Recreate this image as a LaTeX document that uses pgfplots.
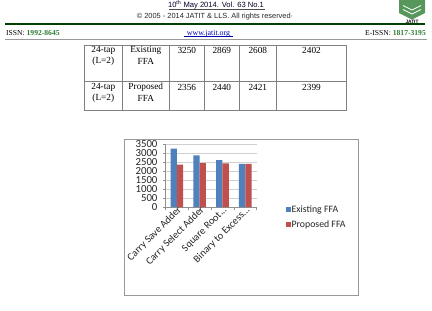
\documentclass[border=0pt]{standalone}
\usepackage{pgfplots}
\pgfplotsset{compat=1.18}
\usepackage{fontspec}
\setmainfont{Liberation Serif}
\newfontfamily\arial{Liberation Sans}
\newfontfamily\calibri{Carlito}
\newcommand\dd{...}
\definecolor{exblue}{HTML}{4F81BD}
\definecolor{prred}{HTML}{C0504D}
\definecolor{jgreen}{HTML}{2E7D32}
\definecolor{gridgray}{HTML}{D0D0D0}
\definecolor{axgray}{HTML}{909090}
\definecolor{tabgray}{HTML}{808080}
\begin{document}
\begin{tikzpicture}
\useasboundingbox (0,0) rectangle (432pt,-311pt);
\fill[white] (0,0) rectangle (432pt,-311pt);
\begin{scope}[x=1pt,y=-1pt]
% header
\node[font=\arial\fontsize{7.6}{8}\selectfont,text=black!85!blue,inner sep=0pt] at (216,5.2) {10\textsuperscript{th} May 2014. Vol. 63 No.1};
\draw[black!70,line width=0.4pt] (169,8.8) -- (265,8.8);
\node[font=\arial\fontsize{7.4}{8}\selectfont,text=black!85,inner sep=0pt] at (215,16.8) {\textcopyright{} 2005 - 2014 JATIT \& LLS. All rights reserved\textperiodcentered};
% logo
\fill[jgreen!80!white] (399,0) -- (425,0) -- (425,13) -- (412,19.5) -- (399,13) -- cycle;
\draw[white,line width=0.8pt] (403,5.5) -- (412,10) -- (421,5.5);
\draw[white,line width=0.8pt] (403,9.5) -- (412,14) -- (421,9.5);
\node[font=\arial\bfseries\fontsize{4.8}{5}\selectfont,inner sep=0pt] at (412,21.4) {JATIT};
% rules
\draw[black!75!green,line width=1.3pt] (5,24) -- (425,24);
\draw[black!40,line width=0.5pt] (5,39.3) -- (427,39.3);
\node[anchor=west,font=\fontsize{7.6}{8}\selectfont,inner sep=0pt] at (6,33.3) {ISSN: \textcolor{jgreen}{\textbf{1992-8645}}};
\node[font=\fontsize{7.9}{8}\selectfont,text=blue!70!black,inner sep=0pt] at (208.5,33.3) {www.jatit.org};
\draw[blue!70!black,line width=0.4pt] (184,36.4) -- (233,36.4);
\node[anchor=east,font=\fontsize{7.6}{8}\selectfont,inner sep=0pt] at (426,33.3) {E-ISSN: \textcolor{jgreen}{\textbf{1817-3195}}};
% table
\draw[tabgray,line width=0.6pt] (84.3,45) rectangle (346.7,110);
\draw[tabgray,line width=0.6pt] (84.3,81.7) -- (346.7,81.7);
\foreach \xx in {122.3,169.3,204.3,239.3,276.3}{\draw[tabgray,line width=0.6pt] (\xx,45) -- (\xx,110);}
\begin{scope}[every node/.style={font=\fontsize{9.3}{10}\selectfont,inner sep=0pt}]
\node at (103.3,50.6) {24-tap}; \node at (103.3,61.7) {(L=2)};
\node at (145.8,50.6) {Existing}; \node at (145.8,61.7) {FFA};
\node at (186.8,50.3) {3250}; \node at (221.8,50.3) {2869}; \node at (257.8,50.3) {2608}; \node at (311.5,50.3) {2402};
\node at (103.3,87.7) {24-tap}; \node at (103.3,98.5) {(L=2)};
\node at (145.8,87.7) {Proposed}; \node at (145.8,98.5) {FFA};
\node at (186.8,87.5) {2356}; \node at (221.8,87.5) {2440}; \node at (257.8,87.5) {2421}; \node at (311.5,87.5) {2399};
\end{scope}
% chart frame
\draw[black!40,line width=0.7pt] (124.3,139) rectangle (358.3,295.7);
\end{scope}
\begin{axis}[
  at={(165.5pt,-207pt)}, anchor=origin,
  scale only axis, width=91.2pt, height=63pt,
  xmin=0.5, xmax=4.5, ymin=0, ymax=3500,
  ytick={0,500,1000,1500,2000,2500,3000,3500},
  /pgf/number format/.cd, 1000 sep={}, assume math mode=true, /pgfplots/.cd,
  xtick={1,2,3,4},
  xticklabels={Carry Save Adder,Carry Select Adder,{Square Root\dd},{Binary to Excess\dd}},
  minor xtick={0.5,1.5,2.5,3.5,4.5},
  major x tick style={draw=none},
  tick align=outside,
  major tick length=2.5pt, minor tick length=3pt,
  tick style={axgray,line width=0.5pt},
  axis x line*=bottom, axis y line*=left,
  axis line style={axgray,line width=0.6pt,-},
  ymajorgrids, grid style={gridgray,line width=0.5pt},
  ybar=0pt, bar width=6.3pt,
  tick label style={font=\calibri\fontsize{10.3}{10}\selectfont,text=black!85},
  yticklabel style={xshift=-2pt,font=\calibri\fontsize{10.8}{10}\selectfont},
  xticklabel style={rotate=45,anchor=east,xshift=4pt,yshift=-1.5pt,inner sep=1pt},
  legend style={at={(1.315,-0.16)},anchor=west,draw=none,fill=none,
     font=\calibri\fontsize{9.8}{10}\selectfont,text=black!85,row sep=4.5pt,
     inner sep=0pt, nodes={inner sep=1pt}},
  legend cell align=left,
  legend image code/.code={\fill[#1] (0pt,-2.5pt) rectangle (5pt,2.5pt);},
]
\addplot[fill=exblue,draw=none] coordinates {(1,3250) (2,2869) (3,2608) (4,2402)};
\addplot[fill=prred,draw=none] coordinates {(1,2356) (2,2440) (3,2421) (4,2399)};
\legend{Existing FFA,Proposed FFA}
\end{axis}
\end{tikzpicture}
\end{document}
